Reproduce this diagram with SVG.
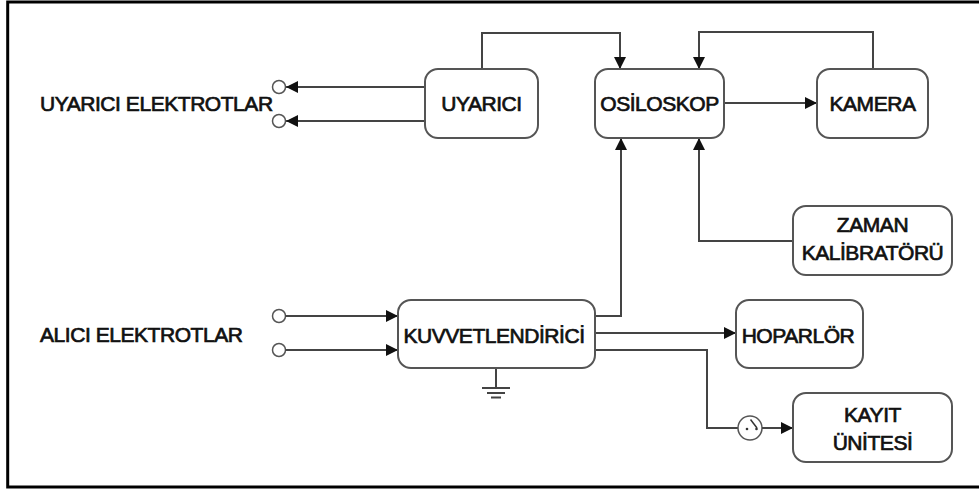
<svg xmlns="http://www.w3.org/2000/svg" width="979" height="490" viewBox="0 0 979 490">
<defs>
<marker id="arr" viewBox="0 0 12 12" refX="12" refY="6" markerWidth="12" markerHeight="12" orient="auto" markerUnits="userSpaceOnUse">
<path d="M0,0 L12,6 L0,12 z" fill="#111"/>
</marker>
</defs>
<style>
.box{fill:#fff;stroke:#555;stroke-width:2}
.ln{fill:none;stroke:#444;stroke-width:2}
.term{fill:#fff;stroke:#555;stroke-width:1.5}
.t{font-family:"Liberation Sans",Arial,sans-serif;font-size:21px;letter-spacing:-0.45px;fill:#111;stroke:#111;stroke-width:0.7}
.c{text-anchor:middle}
</style>
<rect x="7.7" y="2" width="1000" height="485" fill="#fff" stroke="#000" stroke-width="3"/>

<g id="connectors">
<path class="ln" d="M425,87 H286" marker-end="url(#arr)"/>
<path class="ln" d="M425,121 H286" marker-end="url(#arr)"/>
<circle class="term" cx="279" cy="87" r="6.5"/>
<circle class="term" cx="279" cy="121" r="6.5"/>
<path class="ln" d="M482,69 V33 H620 V69" marker-end="url(#arr)"/>
<path class="ln" d="M873,69 V32 H699 V69" marker-end="url(#arr)"/>
<path class="ln" d="M724,103 H817" marker-end="url(#arr)"/>
<circle class="term" cx="279" cy="316" r="6.5"/>
<circle class="term" cx="279" cy="350" r="6.5"/>
<path class="ln" d="M285.5,316 H398" marker-end="url(#arr)"/>
<path class="ln" d="M285.5,350 H398" marker-end="url(#arr)"/>
<path class="ln" d="M595,316 H621 V138" marker-end="url(#arr)"/>
<path class="ln" d="M793,241 H699 V138" marker-end="url(#arr)"/>
<path class="ln" d="M595,333 H736" marker-end="url(#arr)"/>
<path class="ln" d="M595,350 H707 V428 H738"/>
<circle class="term" cx="750" cy="428" r="12"/>
<path class="ln" d="M762,428 H793" marker-end="url(#arr)"/>
<circle cx="747" cy="429" r="1.3" fill="#333"/>
<circle cx="756.5" cy="429" r="1.3" fill="#333"/>
<path d="M750.5,419.5 L757,428" stroke="#333" stroke-width="1.5" fill="none"/>
<path class="ln" d="M496,368 V388 M482,388 H510 M487,393 H505 M491,397.5 H501"/>
</g>

<g id="uyarici_elektrotlar"><text class="t" x="40" y="111">UYARICI ELEKTROTLAR</text></g>
<g id="alici_elektrotlar"><text class="t" x="40" y="342">ALICI ELEKTROTLAR</text></g>

<g id="uyarici">
<rect class="box" x="425" y="69" width="113" height="69" rx="13"/>
<text class="t c" x="481.5" y="111">UYARICI</text>
</g>
<g id="osiloskop">
<rect class="box" x="595" y="69" width="129" height="69" rx="13"/>
<text class="t c" x="659.5" y="111">OSİLOSKOP</text>
</g>
<g id="kamera">
<rect class="box" x="817" y="69" width="111" height="69" rx="13"/>
<text class="t c" x="872.5" y="111">KAMERA</text>
</g>
<g id="zaman">
<rect class="box" x="793" y="206" width="159" height="69" rx="13"/>
<text class="t c" x="872.5" y="232">ZAMAN</text>
<text class="t c" x="872.5" y="260">KALİBRATÖRÜ</text>
</g>
<g id="kuvvetlendirici">
<rect class="box" x="398" y="300" width="197" height="68" rx="13"/>
<text class="t c" x="494" y="343">KUVVETLENDİRİCİ</text>
</g>
<g id="hoparlor">
<rect class="box" x="736" y="300" width="127" height="68" rx="13"/>
<text class="t c" x="798" y="343">HOPARLÖR</text>
</g>
<g id="kayit">
<rect class="box" x="793" y="393" width="159" height="69" rx="13"/>
<text class="t c" x="872.5" y="422">KAYIT</text>
<text class="t c" x="872.5" y="450">ÜNİTESİ</text>
</g>
</svg>
